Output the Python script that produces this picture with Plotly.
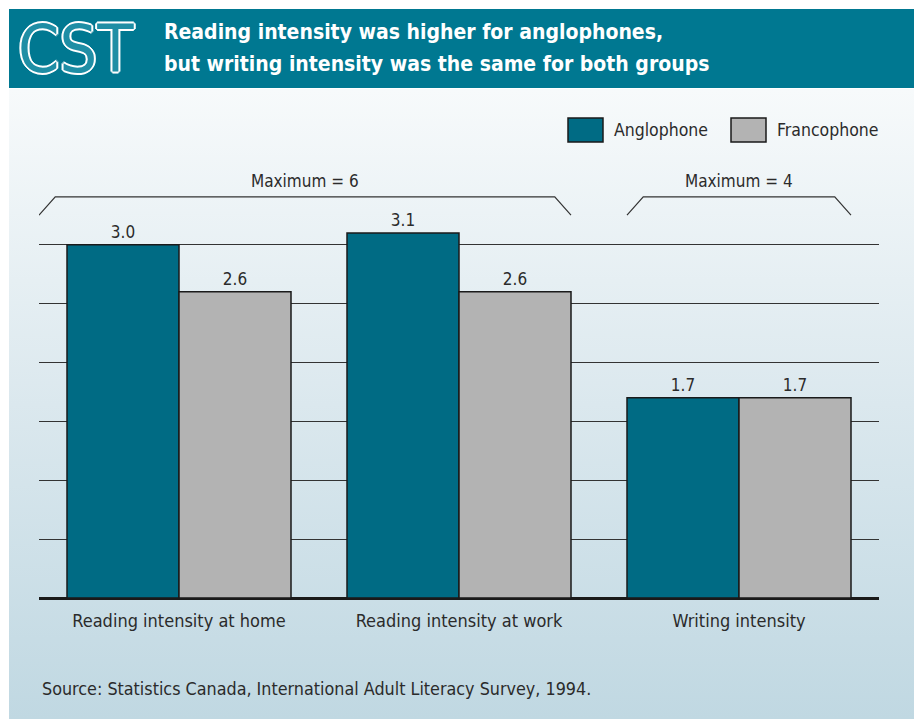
import base64

import plotly.graph_objects as go

CATEGORIES = ["Reading intensity at home", "Reading intensity at work", "Writing intensity"]
ANGLOPHONE = [3.0, 3.1, 1.7]
FRANCOPHONE = [2.6, 2.6, 1.7]
SERIES_NAMES = ["Anglophone", "Francophone"]
MAX_LABELS = ["Maximum = 6", "Maximum = 4"]
MAX_SPANS = [(-0.5, 1.4), (1.6, 2.4)]
GRID_TICKS = [0.5, 1.0, 1.5, 2.0, 2.5, 3.0]

TITLE_LINES = [
    "Reading intensity was higher for anglophones,",
    "but writing intensity was the same for both groups",
]
SOURCE = "Source: Statistics Canada, International Adult Literacy Survey, 1994."

TEAL = "#006b84"
GREY = "#b3b3b3"
HEADER = "#007891"
TEXT = "#2b2b2b"
FONT = "Liberation Sans Narrow, DejaVu Sans Condensed, Arial Narrow, Roboto, sans-serif"

W, H = 914, 719
L, R, T, B = 39, 35, 174, 121


def px(x):
    # pixel -> paper x
    return (x - L) / (W - L - R)


def py(y):
    # pixel -> paper y
    return (H - B - y) / (H - T - B)


xs = list(range(len(CATEGORIES)))

fig = go.Figure()
for name, vals, col in zip(SERIES_NAMES, [ANGLOPHONE, FRANCOPHONE], [TEAL, GREY]):
    fig.add_trace(go.Bar(
        x=xs, y=vals, name=name,
        marker=dict(color=col, line=dict(color="#1a1a1a", width=1.5)),
        text=[f"{v:.1f}" for v in vals], textposition="outside",
        textfont=dict(size=17, color=TEXT, family=FONT),
        cliponaxis=False, showlegend=False,
    ))

# background gradient
svg = ('<svg xmlns="http://www.w3.org/2000/svg" width="100" height="100" preserveAspectRatio="none">'
       '<defs><linearGradient id="g" x1="0" y1="0" x2="0" y2="1">'
       '<stop offset="0" stop-color="#f7fafb"/><stop offset="0.5" stop-color="#dbe8ee"/>'
       '<stop offset="1" stop-color="#c0d8e2"/></linearGradient></defs>'
       '<rect width="100" height="100" fill="url(#g)"/></svg>')
src = "data:image/svg+xml;base64," + base64.b64encode(svg.encode()).decode()
fig.add_layout_image(dict(
    source=src, xref="paper", yref="paper", x=px(9), y=py(89),
    sizex=px(914) - px(9), sizey=py(89) - py(719),
    xanchor="left", yanchor="top", sizing="stretch", layer="below",
))

shapes = [
    dict(type="rect", xref="paper", yref="paper", x0=px(9), x1=px(914), y0=py(88), y1=py(9),
         fillcolor=HEADER, line=dict(width=0), layer="below"),
]

# brackets over groups
s = 0.058
for (a, b) in MAX_SPANS:
    path = f"M {a},3.25 L {a + s},3.405 L {b - s},3.405 L {b},3.25"
    shapes.append(dict(type="path", xref="x", yref="y", path=path,
                       line=dict(color="#333333", width=1.2)))

annotations = []
for lab, (a, b) in zip(MAX_LABELS, MAX_SPANS):
    annotations.append(dict(x=(a + b) / 2, y=3.54, xref="x", yref="y", text=lab, showarrow=False,
                            font=dict(size=17, color=TEXT, family=FONT)))

# legend drawn by hand
leg = [(568, SERIES_NAMES[0], TEAL), (731, SERIES_NAMES[1], GREY)]
for x0, name, col in leg:
    shapes.append(dict(type="rect", xref="paper", yref="paper", x0=px(x0), x1=px(x0 + 35),
                       y0=py(142), y1=py(118), fillcolor=col, line=dict(color="#1a1a1a", width=1.5)))
    annotations.append(dict(x=px(x0 + 44), y=py(130), xref="paper", yref="paper", text=name,
                            showarrow=False, xanchor="left", yanchor="middle",
                            font=dict(size=17.5, color=TEXT, family=FONT)))

# header
for i, line in enumerate(TITLE_LINES):
    annotations.append(dict(x=px(162), y=py(32 + 32 * i), xref="paper", yref="paper", text=f"<b>{line}</b>",
                            showarrow=False, xanchor="left", yanchor="middle",
                            font=dict(size=21, color="white", family=FONT)))
annotations.append(dict(x=px(76), y=py(49), xref="paper", yref="paper", text="CST", showarrow=False,
                        xanchor="center", yanchor="middle",
                        font=dict(size=66, color="#1f8ea5", family=FONT,
                                  shadow="2px 0 0 #fff, -2px 0 0 #fff, 0 2px 0 #fff, 0 -2px 0 #fff, "
                                         "1px 1px 0 #fff, -1px -1px 0 #fff, 1px -1px 0 #fff, -1px 1px 0 #fff")))

annotations.append(dict(x=px(40), y=py(688), xref="paper", yref="paper", text=SOURCE, showarrow=False,
                        xanchor="left", yanchor="middle", font=dict(size=17.8, color=TEXT, family=FONT)))

fig.update_layout(
    width=W, height=H, margin=dict(l=L, r=R, t=T, b=B),
    paper_bgcolor="white", plot_bgcolor="rgba(0,0,0,0)",
    barmode="group", bargap=0.2, bargroupgap=0,
    font=dict(family=FONT, color=TEXT, size=17),
    shapes=shapes, annotations=annotations,
)
fig.update_xaxes(range=[-0.5, 2.5], tickvals=xs, ticktext=CATEGORIES, showgrid=False, zeroline=False,
                 ticks="", showline=False, ticklabelstandoff=10,
                 tickfont=dict(size=18, color=TEXT, family=FONT))
fig.update_yaxes(range=[0, 3.6], tickvals=GRID_TICKS, showticklabels=False, showgrid=True,
                 gridcolor="#333333", gridwidth=1.2, zeroline=True, zerolinecolor="#1a1a1a",
                 zerolinewidth=2.5, showline=False)

fig.write_html("out.html", config={"displayModeBar": False},
               post_script="document.body.style.margin='0';document.body.style.overflow='hidden';")
